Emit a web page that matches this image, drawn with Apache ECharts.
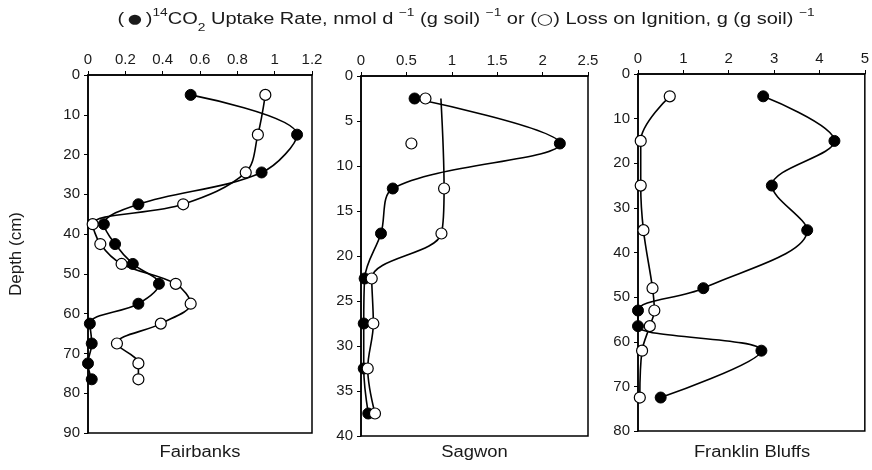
<!DOCTYPE html>
<html>
<head>
<meta charset="utf-8">
<script src="https://cdn.jsdelivr.net/npm/echarts@6/dist/echarts.min.js"></script>
<style>
  html, body { margin: 0; padding: 0; background: #fff; }
  #chart { width: 872px; height: 470px; }
</style>
</head>
<body>
<div id="chart"></div>
<script>
// Fairbanks profile: depth (cm), 14CO2 uptake rate, loss on ignition
const fbDepth  = [5, 15, 24.5, 32.5, 37.5, 42.5, 47.5, 52.5, 57.5, 62.5, 67.5, 72.5, 76.5];
const fbUptake = [0.55, 1.12, 0.93, 0.27, 0.085, 0.145, 0.24, 0.38, 0.27, 0.01, 0.02, 0.0, 0.02];
const fbLoi    = [0.95, 0.91, 0.845, 0.51, 0.025, 0.066, 0.18, 0.47, 0.55, 0.39, 0.155, 0.27, 0.27];

// Sagwon profile
const sgDepth  = [2.5, 7.5, 12.5, 17.5, 22.5, 27.5, 32.5, 37.5];
const sgUptake = [0.59, 2.19, 0.35, 0.22, 0.04, 0.03, 0.03, 0.08];
const sgLoi    = [0.71, 0.555, 0.915, 0.886, 0.118, 0.136, 0.074, 0.154];
// LOI trend line in the top layer starts at this value (depth 2.5 cm) and joins the 12.5 cm sample
const sgLoiTrendTop = 0.88;

// Franklin Bluffs profile
const frDepth  = [5, 15, 25, 35, 48, 53, 56.5, 62, 72.5];
const frUptake = [2.76, 4.33, 2.95, 3.73, 1.44, 0.0, 0.0, 2.72, 0.5];
const frLoi    = [0.70, 0.06, 0.06, 0.12, 0.32, 0.36, 0.26, 0.09, 0.04];

// axis scales
const xMax = [1.2, 2.5, 5];
const xStep = [0.2, 0.5, 1];
const yMax = [90, 40, 80];
const yStep = [10, 5, 10];
const siteNames = ['Fairbanks', 'Sagwon', 'Franklin Bluffs'];

const FONT = 'Liberation Sans, Arial, Helvetica, sans-serif';
const INK = '#1a1a1a';

const pair = (xs, ys) => xs.map((x, i) => [x, ys[i]]);

const grids = [
  { left: 88, top: 75, width: 224, height: 358 },
  { left: 361, top: 76, width: 227, height: 360 },
  { left: 638, top: 74, width: 228, height: 357 }
].map(g => Object.assign(g, { show: true, borderColor: '#000', borderWidth: 1.5, backgroundColor: 'transparent' }));

const xAxes = xMax.map((m, i) => ({
  type: 'value', gridIndex: i, position: 'top', min: 0, max: m, interval: xStep[i],
  axisLine: { show: true, lineStyle: { color: '#000', width: 1.5 } },
  axisTick: { show: true, inside: false, length: 4, lineStyle: { color: '#000', width: 1 } },
  axisLabel: { margin: 8, fontSize: 15, color: INK, fontFamily: FONT },
  splitLine: { show: false }
}));

const yAxes = yMax.map((m, i) => ({
  type: 'value', gridIndex: i, inverse: true, min: 0, max: m, interval: yStep[i],
  axisLine: { show: true, lineStyle: { color: '#000', width: 1.5 } },
  axisTick: { show: true, inside: false, length: 4, lineStyle: { color: '#000', width: 1 } },
  axisLabel: { margin: 8, fontSize: 15, color: INK, fontFamily: FONT },
  splitLine: { show: false },
  name: i === 0 ? 'Depth (cm)' : '',
  nameLocation: 'middle', nameRotate: 90, nameGap: 63,
  nameTextStyle: { fontSize: 17, color: INK, fontFamily: FONT }
}));

const filled = (data, idx) => ({
  type: 'line', xAxisIndex: idx, yAxisIndex: idx, data, smooth: 0.35, clip: false,
  symbol: 'circle', symbolSize: 11,
  lineStyle: { color: '#000', width: 1.6 },
  itemStyle: { color: '#000', borderColor: '#000', borderWidth: 1 },
  z: 3
});
const open = (data, idx) => ({
  type: 'line', xAxisIndex: idx, yAxisIndex: idx, data, smooth: 0.35, clip: false,
  symbol: 'circle', symbolSize: 11,
  lineStyle: { color: '#000', width: 1.6 },
  itemStyle: { color: '#fff', borderColor: '#000', borderWidth: 1.2 },
  z: 4
});

// Sagwon LOI: two upper samples stand alone, the trend line runs from the surface value down
const sgLoiPoints = pair(sgLoi, sgDepth);
const sgLoiLine = [{ value: [sgLoiTrendTop, sgDepth[0]], symbol: 'none' }].concat(sgLoiPoints.slice(2));

const series = [
  filled(pair(fbUptake, fbDepth), 0),
  open(pair(fbLoi, fbDepth), 0),
  filled(pair(sgUptake, sgDepth), 1),
  open(sgLoiLine, 1),
  {
    type: 'scatter', xAxisIndex: 1, yAxisIndex: 1, data: sgLoiPoints.slice(0, 2),
    symbol: 'circle', symbolSize: 11,
    itemStyle: { color: '#fff', borderColor: '#000', borderWidth: 1.2, opacity: 1 }, z: 4
  },
  filled(pair(frUptake, frDepth), 2),
  open(pair(frLoi, frDepth), 2)
];

const centers = grids.map(g => g.left + g.width / 2);

// headline and site captions: Helvetica-like type, slightly widened
const graphics = [{
  type: 'text', x: 466, y: 7, scaleX: 1.25, scaleY: 1, z: 10,
  style: {
    text: '{t|(}{dot|●}{t|)}{sup|14}{t|CO}{sub|2}{t| Uptake Rate, nmol d }{sup|−1}{t| (g soil) }{sup|−1}{t| or (}{ring|○}{t|) Loss on Ignition, g (g soil) }{sup|−1}',
    textAlign: 'center', textVerticalAlign: 'top',
    fill: INK, font: '16px ' + FONT,
    rich: {
      t: { fontSize: 16, fontFamily: FONT, fill: INK, lineHeight: 26 },
      dot: { fontSize: 13, fontFamily: 'DejaVu Sans', fill: INK, lineHeight: 26, padding: [0, 3, 0, 3] },
      ring: { fontSize: 15, fontFamily: 'DejaVu Sans', fill: INK, lineHeight: 26 },
      sup: { fontSize: 11, fontFamily: FONT, fill: INK, verticalAlign: 'top', lineHeight: 12 },
      sub: { fontSize: 11, fontFamily: FONT, fill: INK, verticalAlign: 'bottom', lineHeight: 12 }
    }
  }
}].concat(siteNames.map((n, i) => ({
  type: 'text', x: centers[i], y: 453, scaleX: 1.15, z: 10,
  style: { text: n, textAlign: 'center', textVerticalAlign: 'middle', fill: INK, font: '16px ' + FONT }
})));

const chart = echarts.init(document.getElementById('chart'), null, { renderer: 'canvas' });
chart.setOption({
  animation: false,
  backgroundColor: '#fff',
  grid: grids,
  xAxis: xAxes,
  yAxis: yAxes,
  series,
  graphic: graphics
});
</script>
</body>
</html>
